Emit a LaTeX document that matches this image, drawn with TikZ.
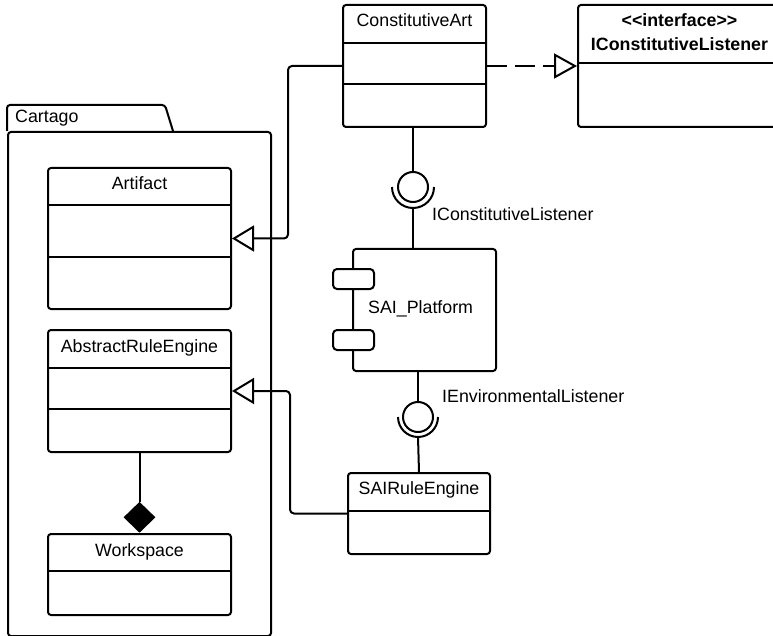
\documentclass[tikz,border=0pt]{standalone}
\usepackage{fontspec}
\setmainfont{Liberation Sans}
\usetikzlibrary{arrows.meta,shapes.geometric}

\tikzset{
  base/.style={line width=2pt, line join=round},
  classbox/.style={draw, base, rounded corners=3pt, anchor=north west, inner sep=0pt},
  txt/.style={inner sep=0pt, font=\fontsize{17.8}{21}\selectfont},
  title/.style={txt, anchor=base},
  lbl/.style={txt, anchor=base west},
  gen/.style={base, rounded corners=4pt, -{Triangle[open, length=22pt, width=26pt, fill=white]}},
  realize/.style={base, dash pattern=on 20pt off 8pt, -{Triangle[open, length=23pt, width=25pt, fill=white]}},
  ball/.style={draw, base, circle, minimum size=30pt, inner sep=0pt},
  port/.style={draw, base, fill=white, rounded corners=4pt, minimum width=41pt, minimum height=20pt, inner sep=0pt, anchor=north west},
}

\begin{document}
\begin{tikzpicture}[x=1pt, y=-1pt]
\useasboundingbox (0,0) rectangle (773,636);

% ---- package Cartago ----
\node[classbox, minimum width=263pt, minimum height=504pt] (cartago) at (7,131) {};
\draw[base, rounded corners=3pt] (cartago.north west) |- (165,105) -- (173,131);
\node[lbl] (cartagoT) at (15,123) {Cartago};

% ---- classes ----
\node[classbox, minimum width=183pt, minimum height=141pt] (artifact) at (47,167) {};
\draw[base] (artifact.west |- 0,205) -- (artifact.east |- 0,205);
\draw[base] (artifact.west |- 0,257) -- (artifact.east |- 0,257);
\node[title] (artifactT) at (artifact.north |- 0,190) {Artifact};

\node[classbox, minimum width=183pt, minimum height=122pt] (are) at (47,329) {};
\draw[base] (are.west |- 0,368) -- (are.east |- 0,368);
\draw[base] (are.west |- 0,409) -- (are.east |- 0,409);
\node[title] (areT) at (are.north |- 0,352) {AbstractRuleEngine};

\node[classbox, minimum width=183pt, minimum height=81pt] (workspace) at (47,533) {};
\draw[base] (workspace.west |- 0,571) -- (workspace.east |- 0,571);
\node[title] (workspaceT) at (workspace.north |- 0,556) {Workspace};

\node[classbox, minimum width=143pt, minimum height=122pt] (cart) at (342,4) {};
\draw[base] (cart.west |- 0,43) -- (cart.east |- 0,43);
\draw[base] (cart.west |- 0,84) -- (cart.east |- 0,84);
\node[title] (cartT) at (cart.north |- 0,27) {ConstitutiveArt};

\node[classbox, minimum width=203pt, minimum height=122pt] (iface) at (577,4) {};
\draw[base] (iface.west |- 0,63) -- (iface.east |- 0,63);
\node[title, font=\fontsize{17.8}{21}\selectfont\bfseries] (ifaceS) at (iface.north |- 0,27) {{<}{<}interface{>}{>}};
\node[title, font=\fontsize{17.8}{21}\selectfont\bfseries] (ifaceT) at (iface.north |- 0,51) {IConstitutiveListener};

\node[classbox, minimum width=142pt, minimum height=81pt] (sairule) at (347,472) {};
\draw[base] (sairule.west |- 0,511) -- (sairule.east |- 0,511);
\node[title] (sairuleT) at (sairule.north |- 0,494) {SAIRuleEngine};

% ---- component SAI_Platform ----
\node[classbox, minimum width=143pt, minimum height=122pt] (platform) at (352,248) {};
\node[port] (port1) at (332,268) {};
\node[port] (port2) at (332,329) {};
\node[lbl] (platformT) at (368,313) {SAI\_Platform};

% ---- composition ----
\node[diamond, fill=black, inner sep=0pt, minimum width=32pt, minimum height=31pt, anchor=south] (dia) at (workspace.north) {};
\draw[base] (are.south) -- (dia.north);

% ---- generalisations ----
\draw[gen] (cart.west) -- ++(-54,0) |- (artifact.east);
\draw[gen] (sairule.west) -- ++(-57,0) |- (are.east);

% ---- realisation ----
\draw[realize] (cart.east) -- (iface.west);

% ---- provided / required interfaces ----
\node[ball] (ball1) at (413,187) {};
\draw[base] ([xshift=-21pt]ball1.center) arc[start angle=180, end angle=360, radius=21pt];
\coordinate (sock1) at (413,208);
\draw[base] (cart.south -| ball1) -- (ball1.north);
\draw[base] (sock1) -- (platform.north -| sock1);
\node[lbl] (lbl1) at (432,221) {IConstitutiveListener};

\node[ball] (ball2) at (418,417) {};
\draw[base] ([xshift=-20pt]ball2.center) arc[start angle=180, end angle=360, radius=20pt];
\coordinate (sock2) at (418,437);
\draw[base] (platform.south -| ball2) -- (ball2.north);
\draw[base] (sock2) -- (sairule.north);
\node[lbl] (lbl2) at (442,402) {IEnvironmentalListener};
\end{tikzpicture}
\end{document}
